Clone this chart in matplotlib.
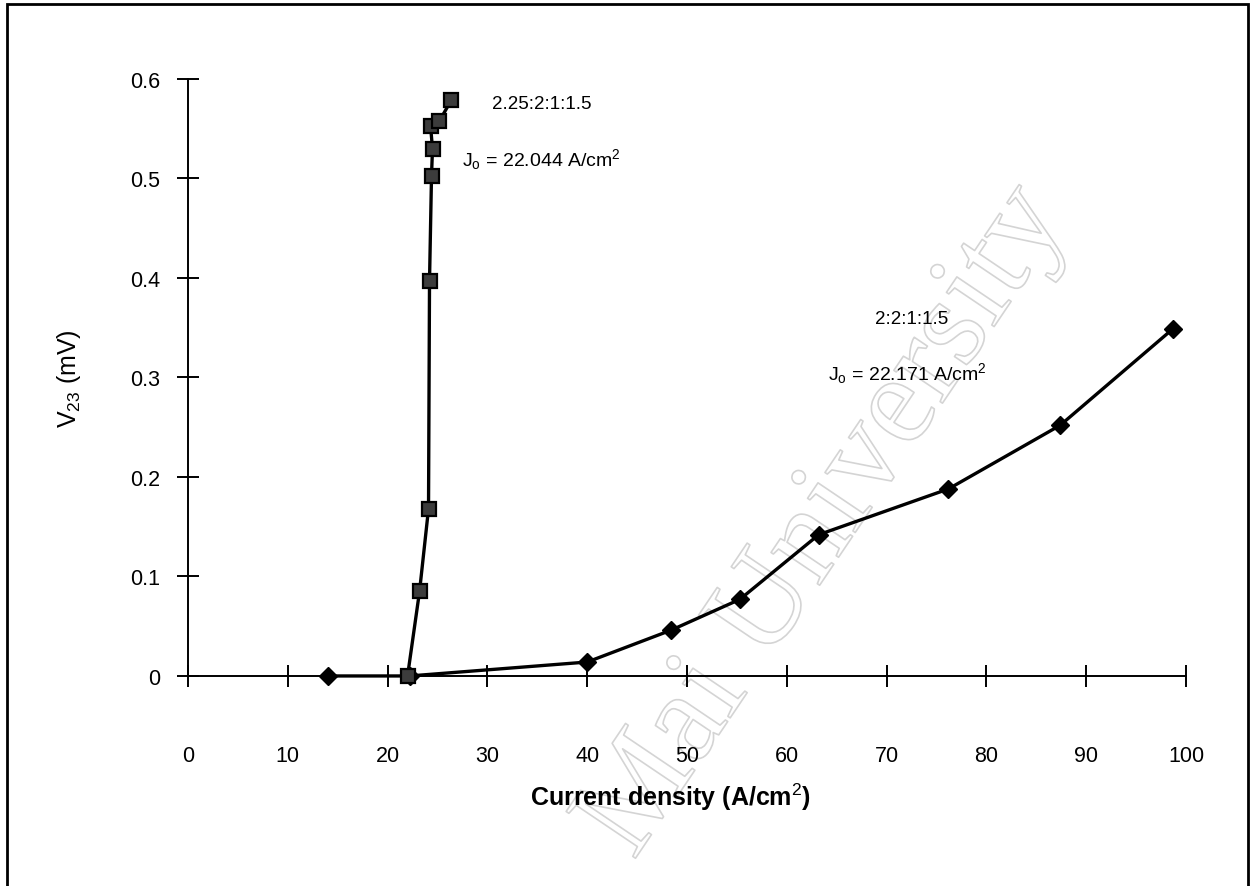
import matplotlib
matplotlib.use("Agg")
import matplotlib.pyplot as plt
import matplotlib.patheffects as pe
from matplotlib.patches import Rectangle

plt.rcParams['font.family'] = ['Liberation Sans', 'DejaVu Sans']
plt.rcParams['mathtext.fontset'] = 'custom'
plt.rcParams['mathtext.rm'] = 'Liberation Sans'
plt.rcParams['mathtext.it'] = 'Liberation Sans'
plt.rcParams['mathtext.bf'] = 'Liberation Sans:bold'

# 2.25:2:1:1.5 sample
j_a = [22.0, 23.2, 24.1, 24.2, 24.4, 24.5, 24.3, 25.2, 26.4]
v_a = [0.0, 0.085, 0.168, 0.397, 0.503, 0.530, 0.553, 0.558, 0.579]

# 2:2:1:1.5 sample
j_b = [14.0, 22.2, 40.0, 48.4, 55.3, 63.2, 76.2, 87.4, 98.7]
v_b = [0.0, 0.0, 0.014, 0.046, 0.077, 0.142, 0.188, 0.252, 0.349]

xticks = [0, 10, 20, 30, 40, 50, 60, 70, 80, 90, 100]
yticks = [0, 0.1, 0.2, 0.3, 0.4, 0.5, 0.6]

fig = plt.figure(figsize=(12.5, 8.87), dpi=100)

# faint outlined watermark, stroke only
fig.text(0.66, 0.41, "Mai University", fontsize=92, family='Liberation Serif',
         color='none', rotation=56, ha='center', va='center', zorder=0,
         path_effects=[pe.Stroke(linewidth=1.2, foreground='#d4d4d4')])

ax = fig.add_axes([0.1504, 0.2368, 0.7984, 0.6730], zorder=1)
ax.patch.set_alpha(0)

ax.plot(j_b, v_b, color='black', lw=2.4, marker='D', ms=9,
        mfc='black', mec='black', clip_on=False, zorder=3)
ax.plot(j_a, v_a, color='black', lw=2.4, marker='s', ms=10,
        mfc='#3c3c3c', mec='black', mew=1.6, clip_on=False, zorder=4)

ax.set_xlim(0, 100)
ax.set_ylim(0, 0.6)
ax.set_xticks(xticks)
ax.set_yticks(yticks)
ax.set_xticklabels([str(t) for t in xticks])
ax.set_yticklabels(['0', '0.1', '0.2', '0.3', '0.4', '0.5', '0.6'])
for s in ['top', 'right']:
    ax.spines[s].set_visible(False)
for s in ['left', 'bottom']:
    ax.spines[s].set_linewidth(1.4)
ax.tick_params(axis='both', direction='inout', length=16, width=1.4,
               labelsize=15.5)
ax.tick_params(axis='x', pad=42)
ax.tick_params(axis='y', pad=12)

ax.set_xlabel("Current density (A/cm$^2$)", fontsize=18, fontweight='bold')
ax.xaxis.set_label_coords(0.483, -0.176)
ax.set_ylabel("V$_{23}$ (mV)", fontsize=18, labelpad=34)

ax.text(30.5, 0.575, "2.25:2:1:1.5", fontsize=13.5, va='center')
ax.text(27.5, 0.52, "J$_\\mathrm{o}$ = 22.044 A/cm$^2$", fontsize=14, va='center')
ax.text(68.8, 0.359, "2:2:1:1.5", fontsize=13.5, va='center')
ax.text(64.1, 0.305, "J$_\\mathrm{o}$ = 22.171 A/cm$^2$", fontsize=14, va='center')

# page frame
fig.patches.append(Rectangle((7 / 1250, -0.01), 1241 / 1250, 1 - 5 / 887 + 0.01,
                             transform=fig.transFigure, fill=False,
                             lw=2, ec='black', zorder=5))

fig.savefig("out.png", dpi=100)
